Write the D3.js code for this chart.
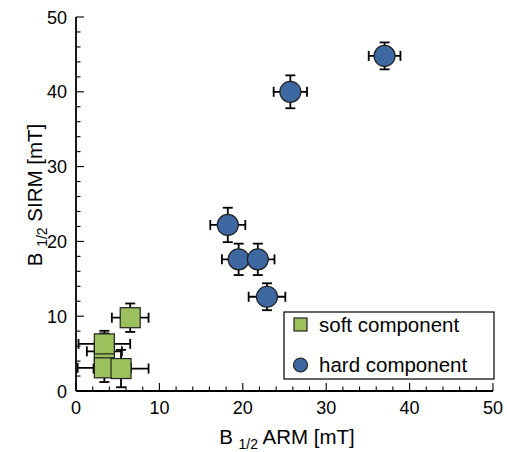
<!DOCTYPE html>
<html><head><meta charset="utf-8">
<script src="https://cdn.jsdelivr.net/npm/d3@7"></script>
<style>body{margin:0;background:#fff}svg{display:block}text{font-family:"Liberation Sans",Arial,Helvetica,sans-serif;fill:#000}</style>
</head><body><div id="chart"></div>
<script>
// Data (drawn in this order)
const softX = [3.4, 6.5, 3.4, 3.4, 5.4];
const softY = [5.3, 9.8, 6.3, 3.1, 3.0];
const softXErr = [2.1, 2.2, 3.1, 3.2, 3.3];
const softYErr = [2.4, 1.9, 1.75, 1.9, 2.5];
const hardX = [37.0, 25.7, 18.2, 19.5, 21.8, 22.9];
const hardY = [44.8, 40.0, 22.2, 17.6, 17.6, 12.6];
const hardXErr = [1.9, 2.0, 2.1, 2.0, 2.0, 2.2];
const hardYErr = [1.8, 2.2, 2.3, 2.1, 2.1, 1.8];
const majorTicks = [0, 10, 20, 30, 40, 50];
const legendLabels = ["soft component", "hard component"];

const W = 507, H = 452;
const m = {l: 76, r: 14, t: 17, b: 61};
const svg = d3.select("#chart").append("svg").attr("width", W).attr("height", H);
const x = d3.scaleLinear().domain([0, 50]).range([m.l, W - m.r]);
const y = d3.scaleLinear().domain([0, 50]).range([H - m.b, m.t]);
const minor = d3.range(0, 51, 2);
const green = "#9cc05b", blue = "#3e68a2";

// axes
const g = svg.append("g");
g.append("line").attr("x1", x(0)).attr("x2", x(50)).attr("y1", y(0)).attr("y2", y(0)).attr("stroke", "#000").attr("stroke-width", 1.8);
g.append("line").attr("x1", x(0)).attr("x2", x(0)).attr("y1", y(0)).attr("y2", y(50)).attr("stroke", "#000").attr("stroke-width", 1.8);
minor.forEach(v => {
  const L = v % 10 === 0 ? 8 : 4.5;
  g.append("line").attr("x1", x(v)).attr("x2", x(v)).attr("y1", y(0)).attr("y2", y(0) - L).attr("stroke", "#000").attr("stroke-width", 1.1);
  g.append("line").attr("y1", y(v)).attr("y2", y(v)).attr("x1", x(0)).attr("x2", x(0) + L).attr("stroke", "#000").attr("stroke-width", 1.1);
});
majorTicks.forEach(v => {
  g.append("text").attr("x", x(v)).attr("y", y(0) + 23).attr("text-anchor", "middle").attr("font-size", 18).text(v);
  g.append("text").attr("x", x(0) - 9).attr("y", y(v) + 6.5).attr("text-anchor", "end").attr("font-size", 18).text(v);
});
// titles
const xt = svg.append("text").attr("x", 287).attr("y", 444).attr("text-anchor", "middle").attr("font-size", 20.5);
xt.append("tspan").text("B ");
xt.append("tspan").attr("font-size", 14).attr("dy", 5).text("1/2");
xt.append("tspan").attr("dy", -5).text(" ARM [mT]");
const yt = svg.append("text").attr("transform", "translate(42,195) rotate(-90)").attr("text-anchor", "middle").attr("font-size", 20.5);
yt.append("tspan").text("B ");
yt.append("tspan").attr("font-size", 14).attr("dy", 5).text("1/2");
yt.append("tspan").attr("dy", -5).text(" SIRM [mT]");

function errbars(px, py, ex, ey) {
  const e = svg.append("g").attr("stroke", "#000").attr("stroke-width", 1.8);
  const c = 5;
  e.append("line").attr("x1", x(px - ex)).attr("x2", x(px + ex)).attr("y1", y(py)).attr("y2", y(py));
  e.append("line").attr("x1", x(px)).attr("x2", x(px)).attr("y1", y(py - ey)).attr("y2", y(py + ey));
  e.append("line").attr("x1", x(px - ex)).attr("x2", x(px - ex)).attr("y1", y(py) - c).attr("y2", y(py) + c);
  e.append("line").attr("x1", x(px + ex)).attr("x2", x(px + ex)).attr("y1", y(py) - c).attr("y2", y(py) + c);
  e.append("line").attr("y1", y(py - ey)).attr("y2", y(py - ey)).attr("x1", x(px) - c).attr("x2", x(px) + c);
  e.append("line").attr("y1", y(py + ey)).attr("y2", y(py + ey)).attr("x1", x(px) - c).attr("x2", x(px) + c);
}
const S = 20;
softX.forEach((v, i) => errbars(v, softY[i], softXErr[i], softYErr[i]));
hardX.forEach((v, i) => errbars(v, hardY[i], hardXErr[i], hardYErr[i]));
softX.forEach((v, i) => {
  svg.append("rect").attr("x", x(v) - S / 2).attr("y", y(softY[i]) - S / 2).attr("width", S).attr("height", S)
    .attr("fill", green).attr("stroke", "#222").attr("stroke-width", 1.2);
});
hardX.forEach((v, i) => {
  svg.append("circle").attr("cx", x(v)).attr("cy", y(hardY[i])).attr("r", 10.5)
    .attr("fill", blue).attr("stroke", "#222").attr("stroke-width", 1.2);
});

// legend
const lg = svg.append("g");
lg.append("rect").attr("x", 284).attr("y", 312).attr("width", 210).attr("height", 67).attr("fill", "#fff").attr("stroke", "#000").attr("stroke-width", 1.2);
lg.append("rect").attr("x", 294).attr("y", 318).attr("width", 13).attr("height", 13).attr("fill", green).attr("stroke", "#222").attr("stroke-width", 1.2);
lg.append("circle").attr("cx", 300.5).attr("cy", 365).attr("r", 7).attr("fill", blue).attr("stroke", "#222").attr("stroke-width", 1.2);
lg.append("text").attr("x", 319).attr("y", 331.5).attr("font-size", 20.5).text(legendLabels[0]);
lg.append("text").attr("x", 319).attr("y", 371.5).attr("font-size", 20.5).text(legendLabels[1]);
</script></body></html>
